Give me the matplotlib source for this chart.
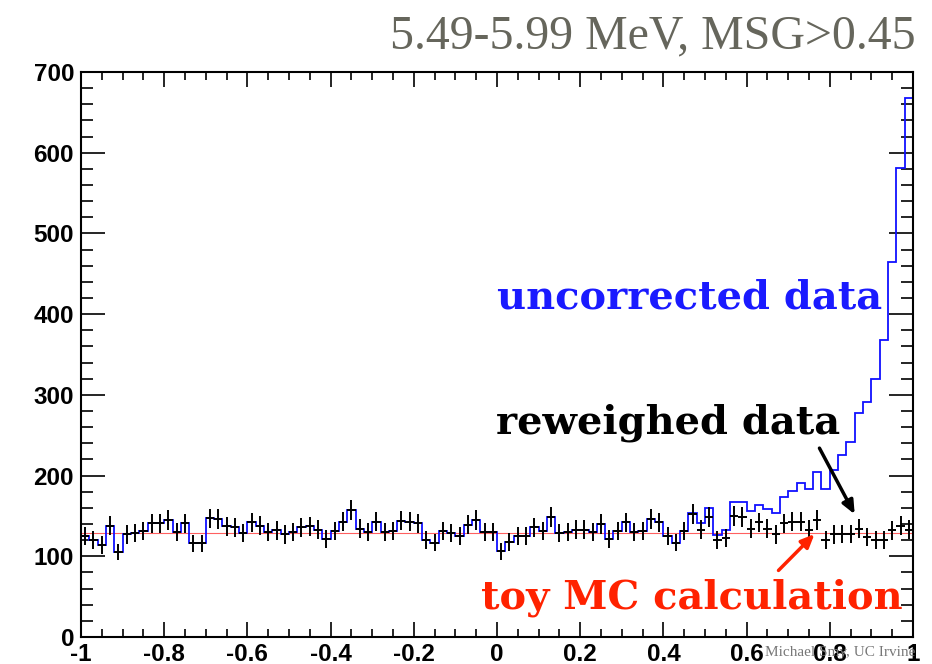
import numpy as np
import matplotlib
matplotlib.use("Agg")
import matplotlib.pyplot as plt
from matplotlib.ticker import MultipleLocator

# 100 bins over the MSG range [-1, 1]
bin_edges = np.linspace(-1.0, 1.0, 101)

# raw counts per bin, no correction applied
uncorrected = [
    125, 120, 114, 138, 105, 127, 129, 131, 141, 141,
    145, 130, 141, 116, 116, 147, 146, 137, 136, 129,
    142, 138, 130, 132, 127, 130, 136, 137, 133, 121,
    131, 143, 157, 134, 130, 143, 130, 131, 144, 143,
    141, 120, 117, 131, 129, 125, 139, 145, 130, 130,
    106, 118, 125, 125, 136, 131, 149, 129, 130, 133,
    133, 130, 140, 121, 131, 142, 130, 131, 146, 142,
    125, 117, 131, 154, 141, 160, 126, 132, 167, 167,
    156, 163, 159, 153, 174, 181, 191, 183, 205, 183,
    207, 226, 241, 277, 291, 320, 368, 465, 581, 668,
]

# counts after reweighting
reweighed = [
    125, 120, 114, 138, 105, 127, 129, 131, 141, 141,
    145, 130, 141, 116, 116, 147, 146, 137, 136, 129,
    142, 138, 130, 132, 127, 130, 136, 137, 133, 121,
    131, 143, 157, 134, 130, 143, 130, 131, 144, 143,
    141, 120, 117, 131, 129, 125, 139, 145, 130, 130,
    106, 118, 125, 125, 136, 131, 149, 129, 130, 133,
    133, 130, 140, 121, 131, 142, 130, 131, 146, 142,
    125, 117, 131, 152, 133, 149, 120, 123, 150, 149,
    134, 142, 134, 127, 141, 143, 143, 133, 145, 120,
    127, 128, 128, 134, 124, 120, 120, 132, 138, 133,
]

# flat expectation from the toy MC
toy_mc_x = [-1.0, 1.0]
toy_mc_y = [129, 129]

centers = 0.5 * (bin_edges[:-1] + bin_edges[1:])
half_width = 0.5 * np.diff(bin_edges)
rw = np.array(reweighed, dtype=float)

fig = plt.figure(figsize=(9.32, 6.64), dpi=100)
ax = fig.add_axes([0.0869, 0.0407, 0.8927, 0.8509])

ax.plot(toy_mc_x, toy_mc_y, color="#ff6060", lw=0.8, zorder=1)
ax.stairs(uncorrected, bin_edges, baseline=None, color="#1010ff", lw=1.3, zorder=2)
ax.errorbar(centers, rw, xerr=half_width, yerr=np.sqrt(rw), fmt="none",
            ecolor="black", elinewidth=1.4, capsize=0, zorder=3)

ax.set_xlim(-1, 1)
ax.set_ylim(0, 700)
ax.xaxis.set_major_locator(MultipleLocator(0.2))
ax.xaxis.set_minor_locator(MultipleLocator(0.05))
ax.yaxis.set_major_locator(MultipleLocator(100))
ax.yaxis.set_minor_locator(MultipleLocator(20))
ax.set_xticks(np.arange(-1, 1.01, 0.2))
ax.set_xticklabels(["-1", "-0.8", "-0.6", "-0.4", "-0.2", "0",
                    "0.2", "0.4", "0.6", "0.8", "1"])

ax.tick_params(which="both", direction="in", top=True, right=True,
               labelsize=17.5, colors="black", width=1.2)
ax.xaxis.set_tick_params(which="major", length=11, pad=4)
ax.xaxis.set_tick_params(which="minor", length=5.5)
ax.yaxis.set_tick_params(which="major", length=17, pad=5)
ax.yaxis.set_tick_params(which="minor", length=8.5)
for lab in ax.get_xticklabels() + ax.get_yticklabels():
    lab.set_fontfamily("Liberation Sans")
    lab.set_fontweight("bold")
for sp in ax.spines.values():
    sp.set_linewidth(1.5)

serif_bold = dict(family="DejaVu Serif", fontweight="bold", fontsize=28.8)
ax.text(0.963, 0.60, "uncorrected data", color="#1a1aff", ha="right",
        va="center", transform=ax.transAxes, **serif_bold)
ax.text(0.912, 0.38, "reweighed data", color="black", ha="right",
        va="center", transform=ax.transAxes, **serif_bold)
ax.text(0.988, 0.07, "toy MC calculation", color="#ff2200", ha="right",
        va="center", transform=ax.transAxes, **serif_bold)

ax.annotate("", xy=(0.863, 149), xytext=(0.772, 237),
            arrowprops=dict(arrowstyle="-|>,head_length=0.8,head_width=0.35",
                            color="black", lw=2.5))
ax.annotate("", xy=(0.768, 130), xytext=(0.672, 80),
            arrowprops=dict(arrowstyle="-|>,head_length=0.8,head_width=0.35",
                            color="#ff2200", lw=2.5))

fig.text(0.982, 0.945, "5.49-5.99 MeV, MSG>0.45", ha="right", va="center",
         family="Liberation Serif", fontsize=34.5, color="#66665c")
fig.text(0.982, 0.018, "Michael Smy, UC Irvine", ha="right", va="center",
         family="Liberation Serif", fontsize=11, color="#777777", zorder=10)

fig.savefig("out.png", dpi=100)
